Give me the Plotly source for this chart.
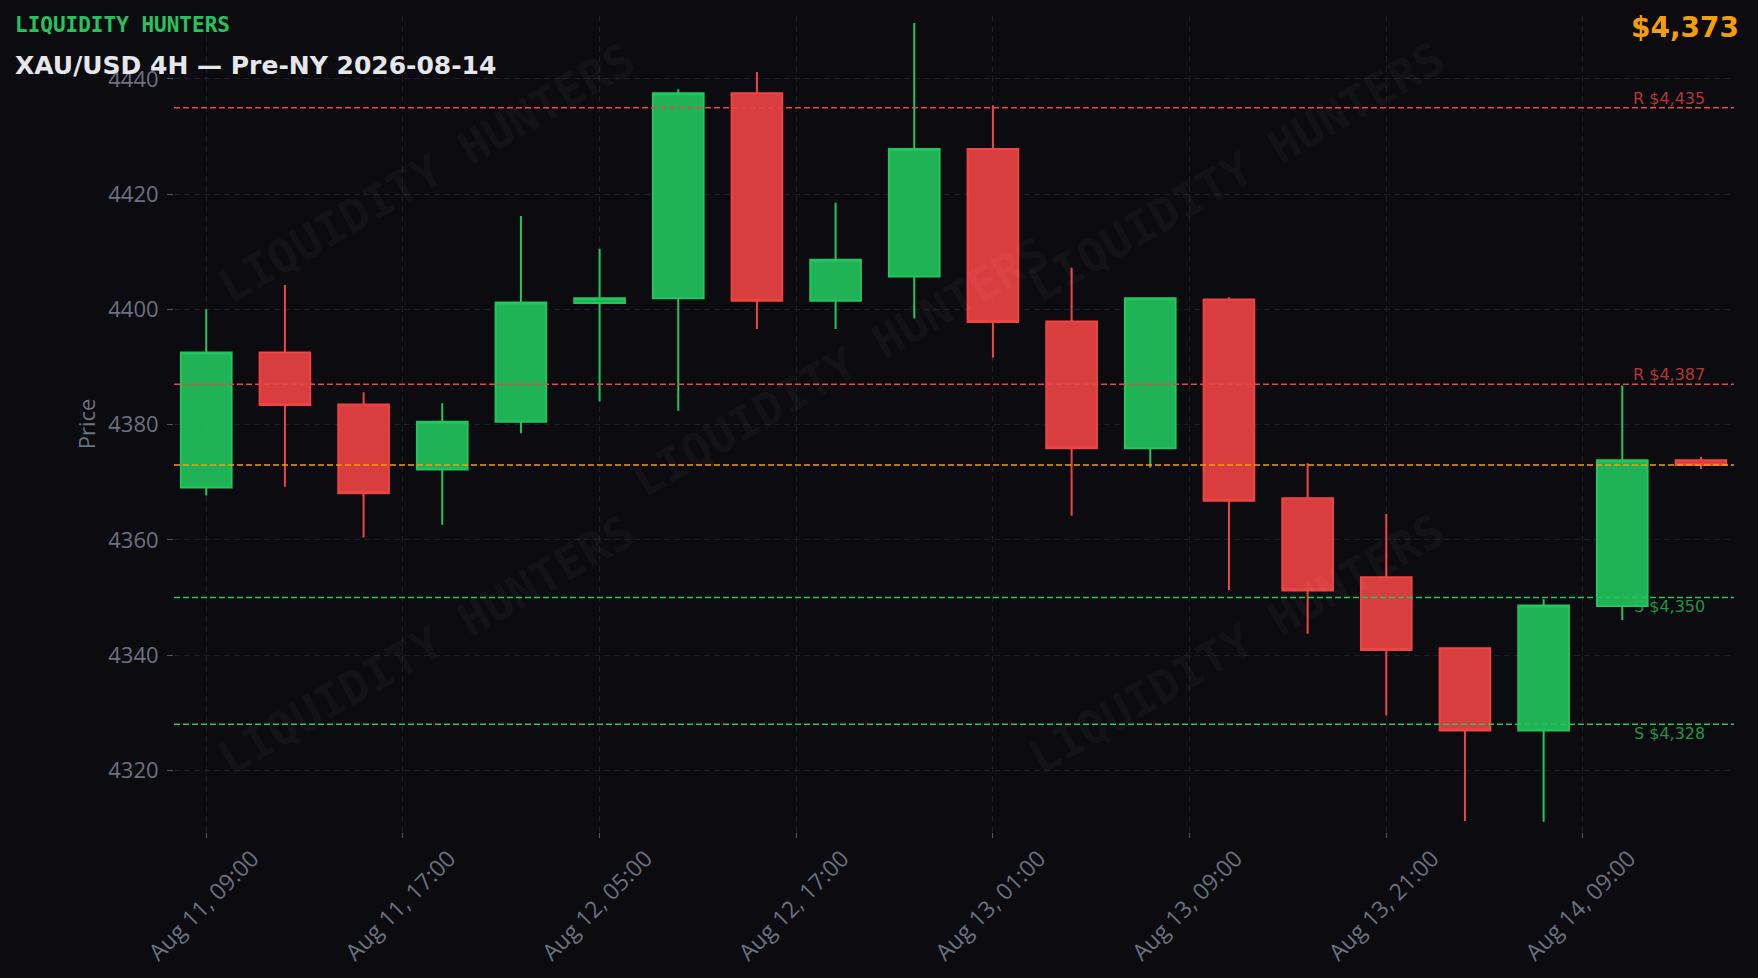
import plotly.graph_objects as go

# ---- data ----
tick_labels = ["Aug 11, 09:00", "Aug 11, 17:00", "Aug 12, 05:00", "Aug 12, 17:00",
               "Aug 13, 01:00", "Aug 13, 09:00", "Aug 13, 21:00", "Aug 14, 09:00"]
tick_positions = [0, 2.5, 5, 7.5, 10, 12.5, 15, 17.5]

opens  = [4369.1, 4392.5, 4383.5, 4372.2, 4380.5, 4401.1, 4401.9, 4437.5, 4401.5, 4405.7,
          4427.8, 4397.9, 4375.9, 4401.7, 4367.2, 4353.5, 4341.2, 4326.9, 4348.5, 4373.8]
highs  = [4400.0, 4404.2, 4385.6, 4383.7, 4416.2, 4410.5, 4438.2, 4441.2, 4418.5, 4449.7,
          4435.4, 4407.2, 4402.0, 4402.1, 4373.3, 4364.5, 4341.2, 4349.7, 4386.8, 4374.4]
lows   = [4367.7, 4369.2, 4360.4, 4362.6, 4378.5, 4384.0, 4382.4, 4396.6, 4396.6, 4398.4,
          4391.6, 4364.2, 4372.5, 4351.3, 4343.7, 4329.5, 4311.2, 4311.1, 4346.1, 4372.3]
closes = [4392.5, 4383.4, 4368.1, 4380.5, 4401.2, 4401.9, 4437.5, 4401.5, 4408.6, 4427.8,
          4397.8, 4375.9, 4401.9, 4366.8, 4351.2, 4340.9, 4326.9, 4348.6, 4373.8, 4373.0]
candle_idx = list(range(len(opens)))

resistance_levels = [4435, 4387]
support_levels = [4350, 4328]
current_price = 4373

brand = "LIQUIDITY HUNTERS"
title = "XAU/USD 4H \u2014 Pre-NY 2026-08-14"

# ---- style ----
BG = "#0b0b10"
GRID = "#1d1e26"
TICKC = "#6b7280"
GREEN = "#22c55e"
RED = "#ef4444"
ORANGE = "#f59e0b"

fig = go.Figure()
fig.add_trace(go.Candlestick(
    x=candle_idx, open=opens, high=highs, low=lows, close=closes,
    increasing=dict(line=dict(color=GREEN, width=2), fillcolor="rgba(34,197,94,0.9)"),
    decreasing=dict(line=dict(color=RED, width=2), fillcolor="rgba(239,68,68,0.9)"),
    showlegend=False, hoverinfo="x+y",
))

for lv in resistance_levels:
    fig.add_hline(y=lv, line=dict(color=RED, width=1.5, dash="6px,3px"))
    fig.add_annotation(x=candle_idx[-1], y=lv, xref="x", yref="y", xanchor="right",
                       yanchor="bottom", xshift=6, yshift=-2, showarrow=False,
                       text=f"R ${lv:,}",
                       font=dict(family="DejaVu Sans", size=16, color="rgba(239,68,68,0.75)"))
for lv in support_levels:
    fig.add_hline(y=lv, line=dict(color=GREEN, width=1.5, dash="6px,3px"))
    fig.add_annotation(x=candle_idx[-1], y=lv, xref="x", yref="y", xanchor="right",
                       yanchor="top", xshift=6, yshift=2, showarrow=False,
                       text=f"S ${lv:,}",
                       font=dict(family="DejaVu Sans", size=16, color="rgba(34,197,94,0.75)"))
fig.add_hline(y=current_price, line=dict(color=ORANGE, width=1.5, dash="6px,3px"))

# watermarks
wm_pos = [(0.162, 0.808), (0.681, 0.809), (0.427, 0.57), (0.162, 0.229), (0.681, 0.231)]
for (wx, wy) in wm_pos:
    fig.add_annotation(x=wx, y=wy, xref="paper", yref="paper", showarrow=False,
                       text=brand, textangle=-30, xanchor="center", yanchor="middle",
                       font=dict(family="DejaVu Sans Mono", size=46, weight="bold",
                                 color="rgba(255,255,255,0.045)"))

# header texts
fig.add_annotation(x=-0.1032, y=0.989, xref="paper", yref="paper", showarrow=False,
                   text=brand, xanchor="left", yanchor="middle",
                   font=dict(family="DejaVu Sans Mono", size=21, weight="bold", color=GREEN))
fig.add_annotation(x=-0.1032, y=0.939, xref="paper", yref="paper", showarrow=False,
                   text=title, xanchor="left", yanchor="middle",
                   font=dict(family="DejaVu Sans", size=25, weight="bold", color="#e5e7eb"))
fig.add_annotation(x=1.0045, y=0.9865, xref="paper", yref="paper", showarrow=False,
                   text=f"${current_price:,}", xanchor="right", yanchor="middle",
                   font=dict(family="DejaVu Sans", size=28, weight="bold", color=ORANGE))

fig.update_layout(
    width=1758, height=978,
    paper_bgcolor=BG, plot_bgcolor=BG,
    margin=dict(l=174, r=24, t=16, b=146),
    boxgap=0.08, boxgroupgap=0.3,
    font=dict(family="Open Sans", color=TICKC, size=22),
    xaxis=dict(range=[-0.41, 19.42], tickmode="array", tickvals=tick_positions,
               ticktext=tick_labels, tickangle=-45, showgrid=True, gridcolor=GRID,
               griddash="6px,4px", gridwidth=1, ticks="outside", ticklen=5,
               tickcolor="#4b5563", zeroline=False, showline=False,
               ticklabelshift=46, ticklabelstandoff=-2,
               rangeslider=dict(visible=False), tickfont=dict(size=23, color=TICKC)),
    yaxis=dict(range=[4309.3, 4450.9], tick0=4320, dtick=20, showgrid=True,
               gridcolor=GRID, griddash="6px,4px", gridwidth=1, ticks="outside",
               ticklen=6, tickcolor="#4b5563", zeroline=False, showline=False,
               ticklabelstandoff=4,
               tickfont=dict(size=22, color=TICKC),
               title=dict(text="Price", font=dict(size=22, color=TICKC), standoff=6)),
)

fig.write_html(
    "out.html",
    config={"displayModeBar": False},
    post_script="document.body.style.margin='0';document.body.style.overflow='hidden';"
                "document.body.style.background='" + BG + "';",
)
